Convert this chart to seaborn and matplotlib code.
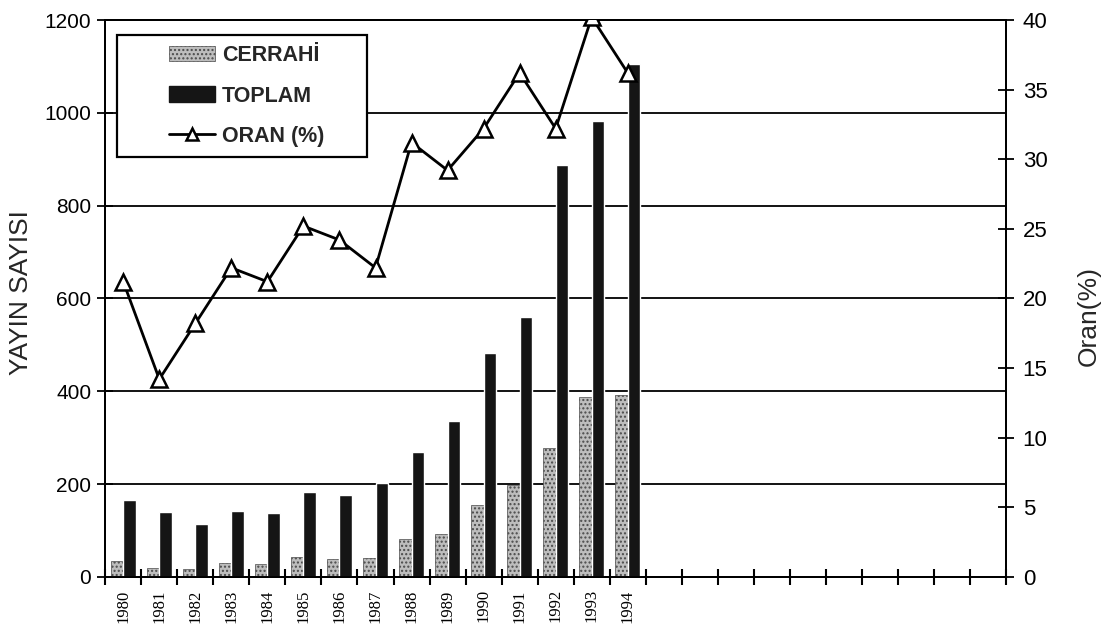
import numpy as np
import pandas as pd
import matplotlib
matplotlib.use("Agg")
import matplotlib.pyplot as plt
import seaborn as sns
from matplotlib.patches import Patch, Rectangle
from matplotlib.lines import Line2D
from matplotlib.legend_handler import HandlerPatch, HandlerLine2D

# values
years = [str(y) for y in range(1980, 1995)]
cerrahi = [35, 20, 18, 30, 27, 42, 38, 40, 82, 93, 155, 198, 278, 388, 392]
toplam = [165, 140, 113, 143, 137, 182, 176, 203, 270, 335, 483, 560, 888, 983, 1105]
oran = [21.2, 14.2, 18.2, 22.2, 21.2, 25.2, 24.2, 22.2, 31.2, 29.2, 32.2, 36.2, 32.2, 40.2, 36.2]
n_slots = 25  # the x axis keeps going past 1994 with empty slots

left_ticks = [0, 200, 400, 600, 800, 1000, 1200]
right_ticks = [0, 5, 10, 15, 20, 25, 30, 35, 40]

light = "#bdbdbd"
dark = "#151515"


class RightPatch(HandlerPatch):
    """legend patch drawn only in the right part of the handle box"""
    def __init__(self, frac=0.52, **kw):
        self.frac = frac
        super().__init__(**kw)

    def create_artists(self, legend, orig_handle, xdescent, ydescent,
                       width, height, fontsize, trans):
        w = width * self.frac
        p = Rectangle((-xdescent + width - w, -ydescent), w, height)
        self.update_prop(p, orig_handle, legend)
        p.set_transform(trans)
        return [p]


class RightLine(HandlerLine2D):
    def __init__(self, frac=0.52, **kw):
        self.frac = frac
        super().__init__(**kw)

    def get_xdata(self, legend, xdescent, ydescent, width, height, fontsize):
        x0 = -xdescent + width * (1 - self.frac)
        x1 = -xdescent + width
        return np.array([x0, x1]), np.array([(x0 + x1) / 2])


sns.set_theme(style="white")
plt.rcParams["font.family"] = ["Liberation Sans", "DejaVu Sans"]

df = pd.DataFrame({
    "year": years * 2,
    "seri": ["CERRAHİ"] * len(years) + ["TOPLAM"] * len(years),
    "deger": cerrahi + toplam,
})

fig, ax = plt.subplots(figsize=(11.08, 6.25), dpi=100)
fig.subplots_adjust(left=0.095, right=0.908, bottom=0.077, top=0.968)

sns.barplot(data=df, x="year", y="deger", hue="seri", order=years,
            palette={"CERRAHİ": light, "TOPLAM": dark}, saturation=1,
            width=0.7, legend=False, ax=ax, zorder=3)

# stipple pattern on the surgical bars
for p in ax.patches[:len(years)]:
    p.set_hatch("....")
    p.set_edgecolor("#4a4a4a")
    p.set_linewidth(0.5)

ax.set_ylim(0, 1200)
ax.set_yticks(left_ticks)
ax.yaxis.grid(True, color="black", linewidth=1.3)
ax.set_axisbelow(True)
ax.set_ylabel("YAYIN SAYISI", fontsize=19)
ax.yaxis.set_label_coords(-0.080, 0.51)
ax.set_xlabel("")
ax.tick_params(axis="y", labelsize=15, direction="inout", length=12, width=1.3,
               left=True, colors="black", pad=4)

# line on the right axis
ax2 = ax.twinx()
sns.lineplot(x=np.arange(len(years)), y=oran, ax=ax2, color="black", linewidth=2,
             marker="^", markersize=11, markerfacecolor="white",
             markeredgecolor="black", markeredgewidth=1.8, zorder=5)
ax2.set_ylim(0, 40)
ax2.set_yticks(right_ticks)
ax2.set_ylabel("Oran(%)", fontsize=19)
ax2.yaxis.set_label_coords(1.079, 0.469)
ax2.tick_params(axis="y", labelsize=16, direction="inout", length=12, width=1.3,
                right=True, colors="black", pad=6)
ax2.grid(False)

ax.set_xlim(-0.5, n_slots - 0.5)
ax.set_xticks(range(len(years)))
ax.set_xticklabels(years, rotation=90, fontsize=12, family="Liberation Serif")
ax.set_xticks(np.arange(-0.5, n_slots, 1), minor=True)
ax.tick_params(axis="x", which="major", length=0, pad=9, colors="black")
ax.tick_params(axis="x", which="minor", bottom=True, direction="inout",
               length=11, width=1.5, color="black")

for a in (ax, ax2):
    for s in a.spines.values():
        s.set_color("black")
        s.set_linewidth(1.4)

h_cer = Patch(facecolor=light, edgecolor="#4a4a4a", hatch="....", linewidth=0.5)
h_top = Patch(facecolor=dark, edgecolor=dark)
h_oran = Line2D([], [], color="black", linewidth=2, marker="^", markersize=9,
                markerfacecolor="white", markeredgecolor="black", markeredgewidth=1.8)
leg = ax2.legend([h_cer, h_top, h_oran], ["CERRAHİ", "TOPLAM", "ORAN (%)"],
                 handler_map={h_cer: RightPatch(), h_top: RightPatch(), h_oran: RightLine()},
                 loc="upper left", bbox_to_anchor=(0.0133, 0.673, 0.2775, 0.30),
                 mode="expand", numpoints=1, frameon=True, fancybox=False,
                 edgecolor="black", prop={"weight": "bold", "size": 15.5},
                 handlelength=4.05, handleheight=0.7, labelspacing=0.9,
                 borderpad=0.47, borderaxespad=0, handletextpad=0.33)
leg.get_frame().set_linewidth(1.6)
leg.get_frame().set_alpha(1)
leg.set_zorder(10)

fig.savefig("out.png", dpi=100)
